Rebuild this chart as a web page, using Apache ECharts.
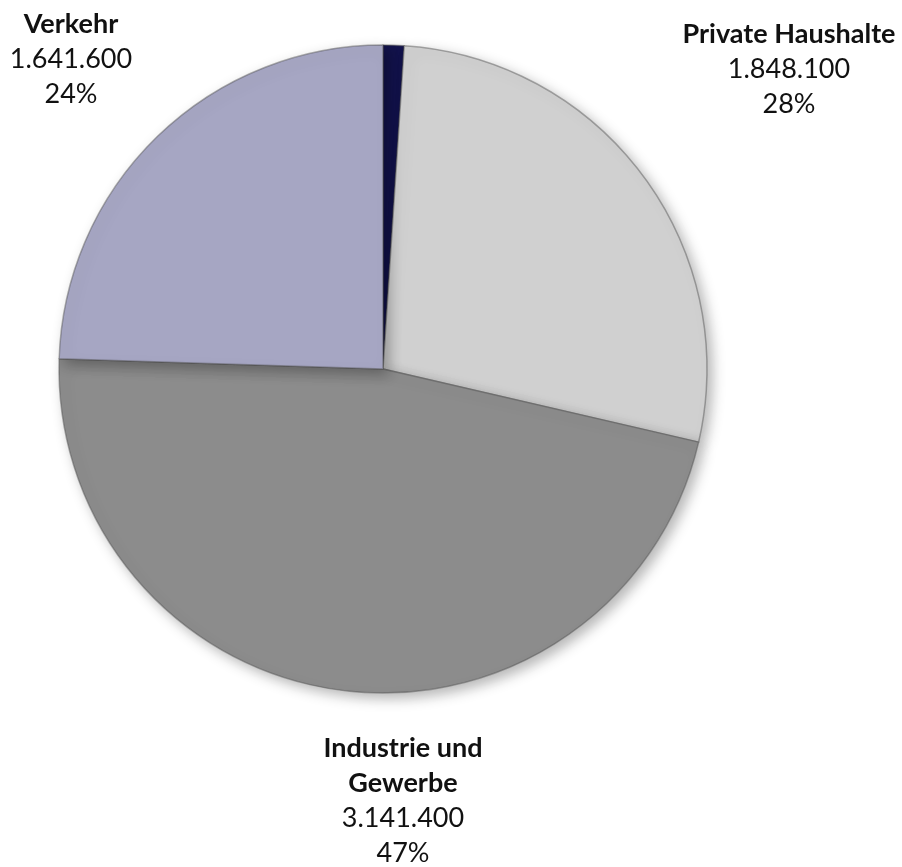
<!DOCTYPE html>
<html>
<head>
<meta charset="utf-8">
<script src="https://cdn.jsdelivr.net/npm/echarts@6/dist/echarts.min.js"></script>
<style>html,body{margin:0;padding:0;background:#fff}#c{width:902px;height:867px}</style>
</head>
<body>
<div id="c"></div>
<script>
const categories = ['Sonstige', 'Private Haushalte', 'Industrie und Gewerbe', 'Verkehr'];
const nameLines = [[''], ['Private Haushalte'], ['Industrie und', 'Gewerbe'], ['Verkehr']];
const values = [70000, 1848100, 3141400, 1641600];
const showLabel = [false, true, true, true];

const colors = ['#14144d', '#d0d0d0', '#8c8c8c', '#a6a6c3'];
const labelPos = [null, {x: 789, y: 17}, {x: 403, y: 731}, {x: 71, y: 7}];

const total = values.reduce((a, b) => a + b, 0);
function fmt(v) { return String(v).replace(/\B(?=(\d{3})+(?!\d))/g, '.'); }

const chart = echarts.init(document.getElementById('c'));
chart.setOption({
  animation: false,
  series: [{
    type: 'pie',
    center: [383, 369],
    radius: 324,
    startAngle: 90,
    clockwise: true,
    avoidLabelOverlap: false,
    labelLine: {show: false},
    data: categories.map((c, i) => ({
      name: c,
      value: values[i],
      itemStyle: {color: colors[i]},
      label: {
        show: showLabel[i],
        position: 'outside',
        formatter: () => nameLines[i].map(l => '{n|' + l + '}').join('\n') + '\n{v|' + fmt(values[i]) + '}\n{v|' + Math.round(values[i] / total * 100) + '%}',
        rich: {
          n: {fontFamily: 'Lato', fontWeight: 'bold', fontSize: 27, lineHeight: 35, color: '#111', align: 'center'},
          v: {fontFamily: 'Lato', fontSize: 27, lineHeight: 35, color: '#111', align: 'center'}
        }
      }
    })),
    itemStyle: {
      borderColor: 'rgba(80,80,80,0.45)',
      borderWidth: 1.5,
      shadowBlur: 14,
      shadowOffsetX: 5,
      shadowOffsetY: 5,
      shadowColor: 'rgba(0,0,0,0.3)'
    },
    labelLayout: function (p) {
      const pos = labelPos[p.dataIndex];
      if (!pos) return {};
      return {x: pos.x, y: pos.y, align: 'center', verticalAlign: 'top'};
    }
  }]
});
</script>
</body>
</html>
